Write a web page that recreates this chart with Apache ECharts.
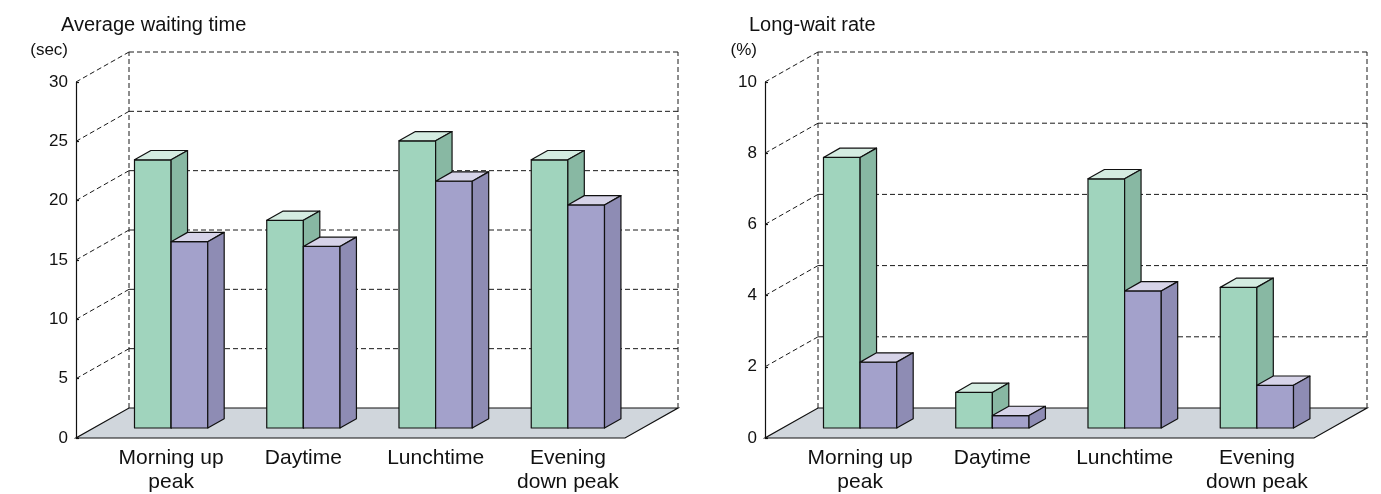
<!DOCTYPE html>
<html>
<head>
<meta charset="utf-8">
<title>Average waiting time / Long-wait rate</title>
<script src="https://cdn.jsdelivr.net/npm/echarts@6/dist/echarts.min.js"></script>
<style>
  html, body { margin: 0; padding: 0; background: #fff; }
  #chart { width: 1381px; height: 494px; }
</style>
</head>
<body>
<div id="chart"></div>
<script>
// categories on the x axis
var categories = ['Morning up\npeak', 'Daytime', 'Lunchtime', 'Evening\ndown peak'];
// average waiting time (sec)
var waitGreen = [22.6, 17.5, 24.2, 22.6];
var waitPurple = [15.7, 15.3, 20.8, 18.8];
// long-wait rate (%)
var rateGreen = [7.6, 1.0, 7.0, 3.95];
var ratePurple = [1.85, 0.35, 3.85, 1.2];
// y ticks
var waitTicks = [0, 5, 10, 15, 20, 25, 30];
var rateTicks = [0, 2, 4, 6, 8, 10];

// pseudo 3d geometry
var DX = 53, DY = -30;        // depth of the floor
var AXIS_SHIFT = 29;          // front axis sits left of the category band
var FLOOR_RIGHT = 9;          // floor ends a bit before the band end
var BAR_W = 0.277;            // bar width as part of a band
var BAR_POS = 1 / 3;          // where the bar front face sits in depth
var BAR_DEP = 0.31;           // bar thickness in depth
var INK = '#111';
var FONT = '"Liberation Sans", Arial, sans-serif';

var GREEN = {front: '#a0d4bd', top: '#d4ece1', side: '#88b8a3'};
var PURPLE = {front: '#a3a1cb', top: '#d6d3e8', side: '#8e8cb4'};

function frameItem(params, api) {
    var cs = params.coordSys;
    var v = api.value(1);
    var y = api.coord([0, v])[1];
    var x0 = cs.x - AXIS_SHIFT;
    var x1 = cs.x + cs.width - FLOOR_RIGHT;
    var dash = {stroke: '#1a1a1a', lineWidth: 1, lineDash: [5, 3], fill: null};
    var children = [];
    if (v === 0) {
        children.push({
            type: 'polygon',
            shape: {points: [[x0, y], [x1, y], [x1 + DX, y + DY], [x0 + DX, y + DY]]},
            style: {fill: '#d0d6dc', stroke: INK, lineWidth: 1.2}
        });
        var yTop = cs.y + DY;
        children.push({type: 'line', shape: {x1: x0 + DX, y1: y + DY, x2: x0 + DX, y2: yTop}, style: dash});
        children.push({type: 'line', shape: {x1: x1 + DX, y1: y + DY, x2: x1 + DX, y2: yTop}, style: dash});
    } else {
        children.push({type: 'line', shape: {x1: x0, y1: y, x2: x0 + DX, y2: y + DY}, style: dash});
        children.push({type: 'line', shape: {x1: x0 + DX, y1: y + DY, x2: x1 + DX, y2: y + DY}, style: dash});
    }
    return {type: 'group', children: children};
}

function barItem(slot, col) {
    return function (params, api) {
        var i = api.value(0), v = api.value(1);
        var base = api.coord([i, 0]);
        var top = api.coord([i, v]);
        var band = api.size([1, 0])[0];
        var w = band * BAR_W;
        var oy = DY * BAR_POS;
        var dx = DX * BAR_DEP, dy = DY * BAR_DEP;
        var xl = base[0] + (slot - 1) * w;
        var xr = xl + w;
        var yb = base[1] + oy, yt = top[1] + oy;
        var edge = {stroke: INK, lineWidth: 1.2, lineJoin: 'round'};
        return {
            type: 'group',
            children: [
                {type: 'polygon', shape: {points: [[xl, yb], [xr, yb], [xr, yt], [xl, yt]]},
                    style: Object.assign({fill: col.front}, edge)},
                {type: 'polygon', shape: {points: [[xl, yt], [xr, yt], [xr + dx, yt + dy], [xl + dx, yt + dy]]},
                    style: Object.assign({fill: col.top}, edge)},
                {type: 'polygon', shape: {points: [[xr, yb], [xr + dx, yb + dy], [xr + dx, yt + dy], [xr, yt]]},
                    style: Object.assign({fill: col.side}, edge)}
            ]
        };
    };
}

function pairs(arr) {
    return arr.map(function (v, i) { return [i, v]; });
}

function xAxisFor(idx) {
    return {
        gridIndex: idx, type: 'category', data: categories,
        axisLine: {show: false}, axisTick: {show: false},
        axisLabel: {color: INK, fontSize: 21, lineHeight: 24, margin: 8, interval: 0, fontFamily: FONT}
    };
}

function yAxisFor(idx, max, step, name) {
    return {
        gridIndex: idx, type: 'value', min: 0, max: max, interval: step,
        offset: AXIS_SHIFT,
        name: name, nameLocation: 'end', nameGap: 32,
        nameTextStyle: {color: INK, fontSize: 17, align: 'right', verticalAlign: 'middle', padding: [0, 8, 0, 0], fontFamily: FONT},
        splitLine: {show: false},
        axisLine: {show: true, lineStyle: {color: INK, width: 1.2}},
        axisTick: {show: true, inside: true, length: 3, lineStyle: {color: INK, width: 1.2}},
        axisLabel: {color: INK, fontSize: 17, margin: 8, fontFamily: FONT}
    };
}

var myChart = echarts.init(document.getElementById('chart'));
myChart.setOption({
    animation: false,
    backgroundColor: '#fff',
    textStyle: {fontFamily: FONT},
    title: [
        {text: 'Average waiting time', left: 56, top: 10,
            textStyle: {color: INK, fontSize: 20, fontWeight: 'normal', fontFamily: FONT}},
        {text: 'Long-wait rate', left: 744, top: 10,
            textStyle: {color: INK, fontSize: 20, fontWeight: 'normal', fontFamily: FONT}}
    ],
    grid: [
        {left: 105, top: 82, width: 529, height: 356},
        {left: 794, top: 82, width: 529, height: 356}
    ],
    xAxis: [xAxisFor(0), xAxisFor(1)],
    yAxis: [yAxisFor(0, 30, 5, '(sec)'), yAxisFor(1, 10, 2, '(%)')],
    series: [
        {type: 'custom', xAxisIndex: 0, yAxisIndex: 0, renderItem: frameItem, silent: true,
            data: waitTicks.map(function (t) { return [0, t]; }), z: 1},
        {type: 'custom', xAxisIndex: 0, yAxisIndex: 0, renderItem: barItem(0, GREEN),
            data: pairs(waitGreen), z: 2},
        {type: 'custom', xAxisIndex: 0, yAxisIndex: 0, renderItem: barItem(1, PURPLE),
            data: pairs(waitPurple), z: 3},
        {type: 'custom', xAxisIndex: 1, yAxisIndex: 1, renderItem: frameItem, silent: true,
            data: rateTicks.map(function (t) { return [0, t]; }), z: 1},
        {type: 'custom', xAxisIndex: 1, yAxisIndex: 1, renderItem: barItem(0, GREEN),
            data: pairs(rateGreen), z: 2},
        {type: 'custom', xAxisIndex: 1, yAxisIndex: 1, renderItem: barItem(1, PURPLE),
            data: pairs(ratePurple), z: 3}
    ]
});
</script>
</body>
</html>
